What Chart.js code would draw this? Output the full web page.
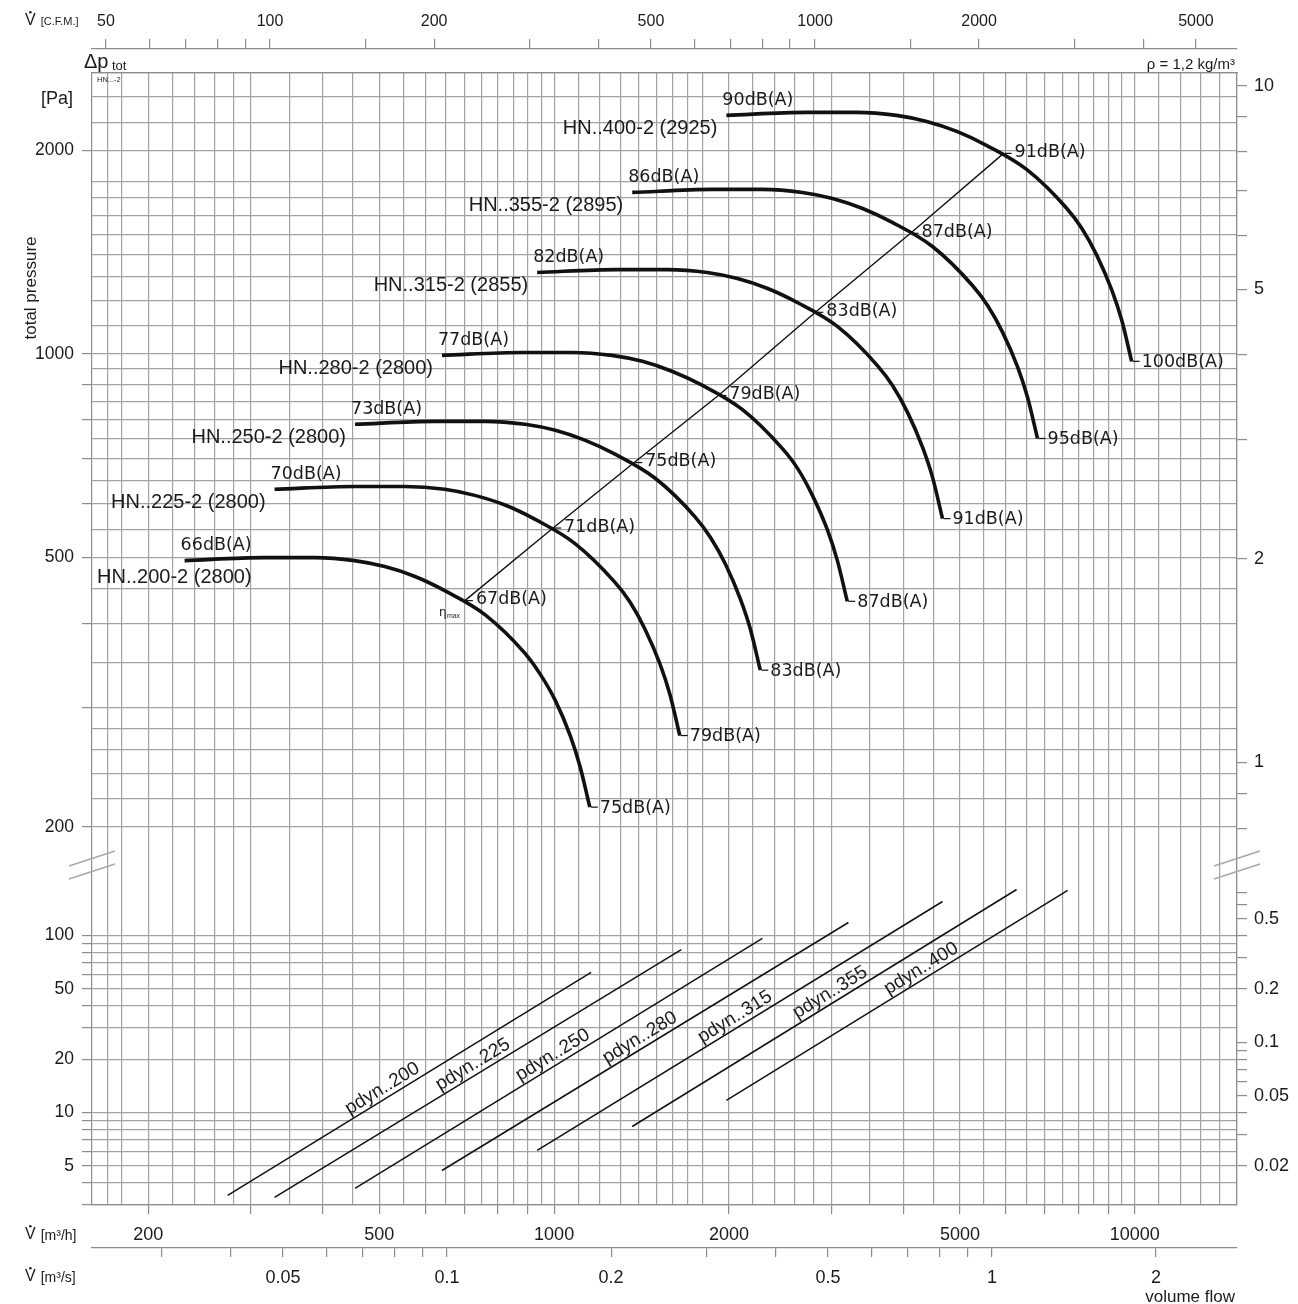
<!DOCTYPE html>
<html>
<head>
<meta charset="utf-8">
<title>HN..-2 fan curves</title>
<script src="https://cdn.jsdelivr.net/npm/chart.js@4.4.1/dist/chart.umd.min.js"></script>
<style>
html,body{margin:0;padding:0;background:#fff;}
canvas{display:block;}
</style>
</head>
<body>
<canvas id="c" width="1298" height="1304"></canvas>
<script>
// ── fan curves: volume flow [m³/h] -> total pressure [Pa] ──
const Q200=[231,317,387,453,511,576,648,760,891,945,1004,1066,1108,1152];
const P200=[495,500,500,495,485,469,447,412,361,337,308,273,246,214];
const Q225=[330,453,553,648,730,823,926,1085,1272,1351,1434,1522,1583,1646];
const P225=[631,637,637,631,618,598,570,525,460,430,392,348,314,273];
const Q250=[454,624,760,891,1005,1132,1273,1493,1750,1858,1973,2094,2178,2265];
const P250=[787,795,795,787,771,745,711,655,574,536,489,434,392,341];
const Q280=[641,881,1074,1258,1419,1599,1798,2108,2471,2624,2785,2957,3075,3198];
const P280=[995,1005,1005,995,975,942,899,828,725,678,618,549,495,431];
const Q315=[935,1285,1566,1835,2069,2332,2623,3075,3604,3827,4063,4313,4485,4665];
const P315=[1319,1332,1332,1319,1292,1249,1191,1098,961,898,819,727,657,571];
const Q355=[1363,1873,2283,2676,3016,3399,3823,4483,5254,5579,5922,6288,6538,6800];
const P355=[1732,1750,1750,1732,1697,1640,1564,1441,1262,1179,1076,955,862,750];
const Q400=[1980,2721,3317,3887,4382,4938,5554,6512,7633,8104,8603,9134,9498,9878];
const P400=[2251,2274,2274,2251,2205,2132,2033,1873,1641,1533,1398,1241,1121,975];

const curveNames=['HN..200-2 (2800)','HN..225-2 (2800)','HN..250-2 (2800)','HN..280-2 (2800)','HN..315-2 (2855)','HN..355-2 (2895)','HN..400-2 (2925)'];
const startDb=['66','70','73','77','82','86','90'];
const endDb=['75','79','83','87','91','95','100'];
const etaDb=['67','71','75','79','83','87','91'];

// η max line
const etaQ=[702,996,1374,1918,2818,4110,5944];
const etaP=[432,553,691,868,1152,1507,1978];

// dynamic pressure lines [Pa]
const pd200Q=[274,1158],  pd200P=[3.40,61.8];
const pd225Q=[330,1656],  pd225P=[3.31,83.3];
const pd250Q=[454,2284],  pd250P=[3.72,96.2];
const pd280Q=[641,3213],  pd280P=[4.70,118.4];
const pd315Q=[935,4667],  pd315P=[6.10,155.6];
const pd355Q=[1363,6259], pd355P=[8.33,181.9];
const pd400Q=[1980,7664], pd400P=[11.7,179.6];
const pdynNames=['pdyn..200','pdyn..225','pdyn..250','pdyn..280','pdyn..315','pdyn..355','pdyn..400'];
const pdynLabelQ=[517,740,1016,1435,2093,3052,4380];

// ── axes ──
const Q_RANGE=[160,15000];
const PA_TOP=[180,2600], PA_BOT=[3,274];
const INWG=249.089;
const CFM_RANGE=[47.13,5947], MS_RANGE=[0.02231,2.815];

const xLabels=[200,500,1000,2000,5000,10000];
const xMarks=[200,300,400,500,600,700,800,900,1000,2000,3000,4000,5000,6000,7000,8000,9000,10000];
const msTicks=[0.03,0.04,0.05,0.06,0.07,0.08,0.09,0.1,0.2,0.3,0.4,0.5,0.6,0.7,0.8,0.9,1,2];
const msLabels=[0.05,0.1,0.2,0.5,1,2];
const cfmTicks=[50,60,70,80,90,100,150,200,300,400,500,600,700,800,900,1000,1500,2000,3000,4000,5000];
const cfmLabels=[50,100,200,500,1000,2000,5000];
const paLabels=[200,500,1000,2000];
const paMarks=[200,300,400,500,600,700,800,900,1000,2000];
const pdGrid=[3,4,5,6,7,8,9,10,20,30,40,50,60,70,80,90,100];
const pdLabels=[5,10,20,50,100];
const inTopTicks=[0.8,0.9,1,2,3,4,5,6,7,8,9,10];
const inTopLabels=[1,2,5,10];
const inBotTicks=[0.02,0.03,0.04,0.05,0.06,0.07,0.08,0.09,0.1,0.2,0.3,0.4,0.5,0.6,0.7];
const inBotLabels=[0.02,0.05,0.1,0.2,0.5];

// grid steps inside one decade of the printed chart paper
const gridSteps=[1,1.1,1.2,1.3,1.4,1.5,1.6,1.7,1.8,2,2.2,2.4,2.6,2.8,3,3.5,4,4.5,5,5.5,6,6.5,7,7.5,8,8.5,9,9.5];
function gridVals(min,max){
  const out=[];
  for(let e=0;e<6;e++) for(const s of gridSteps){
    const v=+(s*Math.pow(10,e)).toPrecision(6);
    if(v>min&&v<=max) out.push(v);
  }
  return out;
}
const xGrid=gridVals(Q_RANGE[0],Q_RANGE[1]).concat(xMarks).filter((v,i,a)=>a.indexOf(v)===i).sort((a,b)=>a-b);
const paGrid=gridVals(PA_TOP[0],PA_TOP[1]);

const SANS='"Liberation Sans", Arial, sans-serif';
const DV='"DejaVu Sans", Verdana, sans-serif';
const GRID='#a2a2a2', AX='#8c8c8c', TXT='#1b1b1b', INK='#111';
const NONE='rgba(0,0,0,0)';

function logAxis(o){
  return {
    type:'logarithmic', axis:o.axis, position:o.pos, min:o.min, max:o.max, bounds:'data',
    stack:o.stack, stackWeight:o.sw, weight:o.wt,
    afterBuildTicks:s=>{ s.ticks=o.ticks.map(v=>({value:v})); },
    afterFit:s=>{ if(o.axis==='y') s.width=o.size; else s.height=o.size; },
    grid:{drawOnChartArea:!!o.chart, color:GRID, lineWidth:1.2, tickLength:o.tl||10, tickWidth:1.2,
      tickColor:c=>(!o.marks||(c.tick&&o.marks.includes(c.tick.value)))?AX:NONE},
    border:{display:true,color:AX,width:1.2},
    ticks:{autoSkip:false,maxRotation:0,minRotation:0,padding:o.pad,color:TXT,
      font:{family:SANS,size:o.fs},
      callback:v=>o.labels.includes(v)?String(v):''}
  };
}

const datasets=[];
[[Q200,P200],[Q225,P225],[Q250,P250],[Q280,P280],[Q315,P315],[Q355,P355],[Q400,P400]].forEach(([q,p])=>{
  datasets.push({data:q.map((v,i)=>({x:v,y:p[i]})),yAxisID:'yTop',borderColor:INK,borderWidth:3.6,
    pointRadius:0,showLine:true,cubicInterpolationMode:'monotone',fill:false});
});
datasets.push({data:etaQ.map((v,i)=>({x:v,y:etaP[i]})),yAxisID:'yTop',borderColor:INK,borderWidth:1.4,
  pointRadius:0,showLine:true,tension:0});
const pdynSets=[[pd200Q,pd200P],[pd225Q,pd225P],[pd250Q,pd250P],[pd280Q,pd280P],[pd315Q,pd315P],[pd355Q,pd355P],[pd400Q,pd400P]];
pdynSets.forEach(([q,p])=>{
  datasets.push({data:q.map((v,i)=>({x:v,y:p[i]})),yAxisID:'yBot',borderColor:INK,borderWidth:1.5,
    pointRadius:0,showLine:true,tension:0});
});

function dash(c,x,y){
  c.beginPath();c.moveTo(x+1,y);c.lineTo(x+8,y);c.lineWidth=1.2;c.stroke();
}
function vdot(c,x,y,fs,txt,small){
  c.font=fs+'px '+SANS;c.textAlign='left';c.textBaseline='middle';
  c.fillText('V',x,y);
  const w=c.measureText('V').width;
  c.beginPath();c.arc(x+w/2,y-fs*0.55,1.3,0,Math.PI*2);c.fill();
  c.font=small+'px '+SANS;c.fillText(txt,x+w+5,y+1);
}

const annotations={id:'annotations',
  afterDatasetsDraw(ch){
    const c=ch.ctx,sx=ch.scales.x,yt=ch.scales.yTop,yb=ch.scales.yBot;
    c.save();c.fillStyle=TXT;c.strokeStyle=INK;
    [Q200,Q225,Q250,Q280,Q315,Q355,Q400].forEach((q,i)=>{
      const p=[P200,P225,P250,P280,P315,P355,P400][i], n=q.length-1;
      const x0=sx.getPixelForValue(q[0]),y0=yt.getPixelForValue(p[0]);
      const x1=sx.getPixelForValue(q[n]),y1=yt.getPixelForValue(p[n]);
      c.font='20px '+SANS;c.textBaseline='middle';c.textAlign='right';
      if(i===0) c.fillText(curveNames[i],x0+67,y0+17);
      else c.fillText(curveNames[i],x0-9,y0+13);
      c.font='17.5px '+DV;c.textAlign='left';
      c.fillText(startDb[i]+'dB(A)',x0-4,y0-15);
      dash(c,x1,y1);c.fillText(endDb[i]+'dB(A)',x1+10,y1+1);
      const xe=sx.getPixelForValue(etaQ[i]),ye=yt.getPixelForValue(etaP[i]);
      dash(c,xe,ye);c.fillText(etaDb[i]+'dB(A)',xe+11,ye-1);
    });
    // η max
    const xe=sx.getPixelForValue(etaQ[0]),ye=yt.getPixelForValue(etaP[0]);
    c.font='12px '+DV;c.textAlign='left';c.textBaseline='middle';
    c.fillText('η',xe-26,ye+12);
    c.font='7px '+SANS;c.fillText('max',xe-18,ye+15);
    // pdyn labels along lines
    pdynSets.forEach(([q,p],i)=>{
      const xa=sx.getPixelForValue(q[0]),ya=yb.getPixelForValue(p[0]);
      const xb=sx.getPixelForValue(q[1]),yb2=yb.getPixelForValue(p[1]);
      const ang=Math.atan2(yb2-ya,xb-xa);
      const xm=sx.getPixelForValue(pdynLabelQ[i]);
      const ym=ya+(xm-xa)/(xb-xa)*(yb2-ya);
      c.save();c.translate(xm,ym);c.rotate(ang);
      c.font='19px '+SANS;c.textAlign='center';c.textBaseline='alphabetic';
      c.fillText(pdynNames[i],0,-5);c.restore();
    });
    c.restore();
  },
  afterDraw(ch){
    const c=ch.ctx,a=ch.chartArea,yb=ch.scales.yBot;
    c.save();c.fillStyle=TXT;
    vdot(c,25,21,16,'[C.F.M.]',11);
    vdot(c,25,1235,16,'[m³/h]',14);
    vdot(c,25,1277,16,'[m³/s]',14);
    c.font='20px '+SANS;c.textAlign='left';c.textBaseline='alphabetic';
    c.fillText('Δp',84,68);
    c.font='13px '+SANS;c.fillText('tot',112,70);
    c.font='7.5px '+SANS;c.textBaseline='middle';c.fillText('HN...-2',97,80);
    c.font='18px '+SANS;c.textAlign='right';c.fillText('[Pa]',73,99);
    c.font='15px '+SANS;c.fillText('ρ = 1,2 kg/m³',1235,65);
    c.font='17px '+SANS;c.fillText('volume flow',1235,1297);
    c.save();c.translate(31,288);c.rotate(-Math.PI/2);
    c.font='17px '+SANS;c.textAlign='center';c.fillText('total pressure',0,0);c.restore();
    // axis break marks
    const yB=yb.top;
    c.strokeStyle='#a8a8a8';c.lineWidth=1.4;
    [a.left,a.right].forEach(xc=>{
      [0,13].forEach(d=>{
        c.beginPath();c.moveTo(xc-23,yB+8+d);c.lineTo(xc+23,yB-7+d);c.stroke();
      });
    });
    c.restore();
  }
};

new Chart(document.getElementById('c'),{
  type:'scatter',
  data:{datasets},
  options:{
    responsive:false,animation:false,devicePixelRatio:1,
    layout:{padding:0},
    plugins:{legend:{display:false},tooltip:{enabled:false}},
    scales:{
      x:logAxis({axis:'x',pos:'bottom',min:Q_RANGE[0],max:Q_RANGE[1],wt:1,ticks:xGrid,marks:xMarks,
        labels:xLabels,chart:true,size:43,tl:9,pad:10,fs:18}),
      xm:logAxis({axis:'x',pos:'bottom',min:MS_RANGE[0],max:MS_RANGE[1],wt:2,ticks:msTicks,
        labels:msLabels,size:56,tl:9,pad:10,fs:18}),
      xc:logAxis({axis:'x',pos:'top',min:CFM_RANGE[0],max:CFM_RANGE[1],wt:2,ticks:cfmTicks,
        labels:cfmLabels,size:49,tl:10,pad:8,fs:16}),
      xs:{type:'linear',axis:'x',position:'top',min:0,max:1,weight:1,
        afterFit:s=>{s.height=24;},grid:{display:false,drawTicks:false},
        border:{display:true,color:AX,width:1.2},ticks:{display:false}},
      yTop:logAxis({axis:'y',pos:'left',stack:'L',sw:785,wt:2,min:PA_TOP[0],max:PA_TOP[1],ticks:paGrid,
        marks:paMarks,labels:paLabels,chart:true,size:92,tl:10,pad:8,fs:17.5}),
      yBot:logAxis({axis:'y',pos:'left',stack:'L',sw:347,wt:1,min:PA_BOT[0],max:PA_BOT[1],ticks:pdGrid,
        labels:pdLabels,chart:true,size:92,tl:10,pad:8,fs:17.5}),
      rTop:logAxis({axis:'y',pos:'right',stack:'R',sw:785,wt:1,min:PA_TOP[0]/INWG,max:PA_TOP[1]/INWG,
        ticks:inTopTicks,labels:inTopLabels,size:61,tl:10,pad:7,fs:18}),
      rBot:logAxis({axis:'y',pos:'right',stack:'R',sw:347,wt:2,min:PA_BOT[0]/INWG,max:PA_BOT[1]/INWG,
        ticks:inBotTicks,labels:inBotLabels,size:61,tl:10,pad:7,fs:18})
    }
  },
  plugins:[annotations]
});
</script>
</body>
</html>
